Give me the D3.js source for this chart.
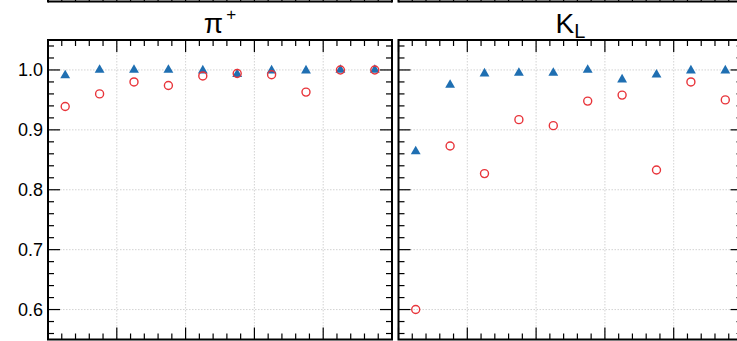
<!DOCTYPE html>
<html><head><meta charset="utf-8">
<script src="https://cdn.jsdelivr.net/npm/d3@7"></script>
<style>body{margin:0;background:#fff}svg{display:block}</style>
</head><body>
<script>
// ---- data ----
const bins = [1,2,3,4,5,6,7,8,9,10];
const panelTitles = ["π", "K"];
const piTriangles = [0.991, 1.000, 1.000, 1.000, 0.999, 0.993, 0.999, 0.999, 1.000, 1.000];
const piCircles   = [0.939, 0.960, 0.980, 0.974, 0.990, 0.994, 0.992, 0.963, 1.000, 1.000];
const klTriangles = [0.864, 0.975, 0.994, 0.995, 0.995, 1.000, 0.984, 0.992, 0.999, 0.999];
const klCircles   = [0.600, 0.873, 0.827, 0.917, 0.907, 0.948, 0.958, 0.833, 0.980, 0.950];
const yTicks = [0.6, 0.7, 0.8, 0.9, 1.0];

const W = 737, H = 341;
const svg = d3.select("body").append("svg").attr("width", W).attr("height", H);
const font = "'Liberation Sans', Arial, Helvetica, sans-serif";

const plotTop = 40, plotBottom = 339.5;
const y = d3.scaleLinear().domain([0.55, 1.05]).range([plotBottom, plotTop]);
const yMinor = d3.range(0.56, 1.05, 0.02).map(v => +v.toFixed(2)).filter(v => !yTicks.some(t => Math.abs(t - v) < 1e-6));
const xMajor = [0, 2, 4, 6, 8, 10];
const xMinor = d3.range(0, 10.01, 0.4).map(v => +v.toFixed(2)).filter(v => !xMajor.some(t => Math.abs(t - v) < 1e-6));

function drawFrameTicks(g, x, yScale, yTop, yBot) {
  const [x0, x1] = x.range();
  const tickG = g.append("g").attr("stroke", "#000").attr("stroke-width", 1.2);
  [[yTop, 1], [yBot, -1]].forEach(([yy, dir]) => {
    xMajor.forEach(v => tickG.append("line").attr("x1", x(v)).attr("x2", x(v)).attr("y1", yy).attr("y2", yy + dir * 12));
    xMinor.forEach(v => tickG.append("line").attr("x1", x(v)).attr("x2", x(v)).attr("y1", yy).attr("y2", yy + dir * 6));
  });
  [[x0, 1], [x1, -1]].forEach(([xx, dir]) => {
    yTicks.forEach(v => tickG.append("line").attr("x1", xx).attr("x2", xx + dir * 12).attr("y1", yScale(v)).attr("y2", yScale(v)));
    yMinor.forEach(v => tickG.append("line").attr("x1", xx).attr("x2", xx + dir * 6).attr("y1", yScale(v)).attr("y2", yScale(v)));
  });
}

const panels = [
  {x0: 48, x1: 392, tri: piTriangles, circ: piCircles, title: panelTitles[0], sup: "+", sub: null, labels: true},
  {x0: 398.5, x1: 742.5, tri: klTriangles, circ: klCircles, title: panelTitles[1], sup: null, sub: "L", labels: false}
];

panels.forEach(p => {
  const x = d3.scaleLinear().domain([0, 10]).range([p.x0, p.x1]);
  const g = svg.append("g");

  // upper panel (cut off) bottom edge
  g.append("line").attr("x1", p.x0).attr("x2", p.x1).attr("y1", 1.5).attr("y2", 1.5)
    .attr("stroke", "#000").attr("stroke-width", 2);
  const tg = g.append("g").attr("stroke", "#000").attr("stroke-width", 1.2);
  xMajor.forEach(v => tg.append("line").attr("x1", x(v)).attr("x2", x(v)).attr("y1", 1.5).attr("y2", -10));
  xMinor.forEach(v => tg.append("line").attr("x1", x(v)).attr("x2", x(v)).attr("y1", 1.5).attr("y2", -4.5));
  [p.x0, p.x1].forEach(xx => g.append("line").attr("x1", xx).attr("x2", xx).attr("y1", -5).attr("y2", 2.5)
    .attr("stroke", "#000").attr("stroke-width", 2));

  // grid
  const grid = g.append("g").attr("stroke", "#c8c8c8").attr("stroke-width", 0.8).attr("stroke-dasharray", "1.5,1.5");
  xMajor.slice(1, -1).forEach(v => grid.append("line").attr("x1", x(v)).attr("x2", x(v)).attr("y1", plotTop).attr("y2", plotBottom));
  yTicks.forEach(v => grid.append("line").attr("x1", p.x0).attr("x2", p.x1).attr("y1", y(v)).attr("y2", y(v)));

  drawFrameTicks(g, x, y, plotTop, plotBottom);

  // frame
  g.append("rect").attr("x", p.x0).attr("y", plotTop).attr("width", p.x1 - p.x0).attr("height", plotBottom - plotTop)
    .attr("fill", "none").attr("stroke", "#000").attr("stroke-width", 2);

  // y labels
  if (p.labels) {
    g.selectAll("text.yl").data(yTicks).enter().append("text")
      .attr("x", p.x0 - 5).attr("y", d => y(d)).attr("dy", "0.35em")
      .attr("text-anchor", "end").attr("font-family", font).attr("font-size", 18).attr("fill", "#000")
      .text(d => d.toFixed(1));
  }

  // title
  const t = g.append("text").attr("x", (p.x0 + p.x1) / 2).attr("y", 33).attr("text-anchor", "middle")
    .attr("font-family", font).attr("font-size", 28).attr("fill", "#000");
  t.append("tspan").text(p.title);
  if (p.sup) t.append("tspan").attr("font-size", 17).attr("dx", 3).attr("dy", -13).text(p.sup);
  if (p.sub) t.append("tspan").attr("font-size", 20).attr("dy", 5).text(p.sub);

  // markers
  const tri = d3.symbol().type(d3.symbolTriangle).size(42);
  g.selectAll("path.tri").data(bins).enter().append("path")
    .attr("d", tri).attr("fill", "#1f6fb2")
    .attr("transform", (d, i) => `translate(${x(i + 0.5)},${y(p.tri[i])})`);
  g.selectAll("circle.c").data(bins).enter().append("circle")
    .attr("cx", (d, i) => x(i + 0.5)).attr("cy", (d, i) => y(p.circ[i])).attr("r", 4)
    .attr("fill", "none").attr("stroke", "#e8343a").attr("stroke-width", 1.4);
});
</script>
</body></html>
